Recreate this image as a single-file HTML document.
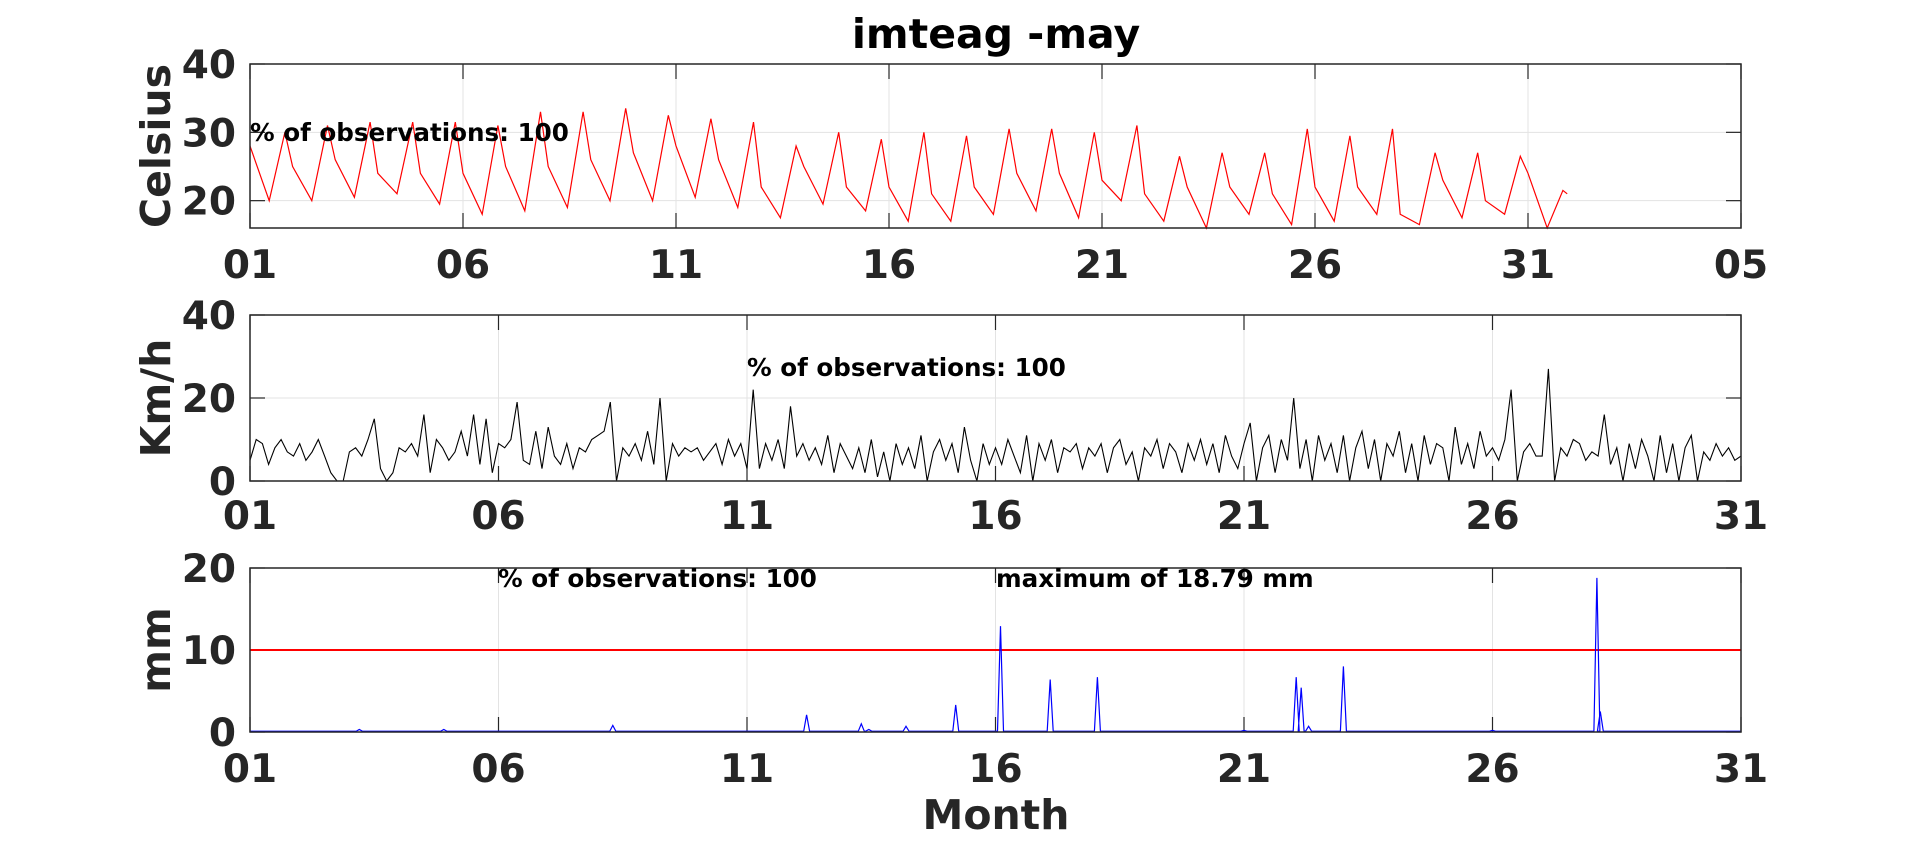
<!DOCTYPE html>
<html><head><meta charset="utf-8"><style>
html,body{margin:0;padding:0;background:#fff;}
svg{display:block;font-family:"DejaVu Sans","Liberation Sans",sans-serif;font-weight:bold;}
</style></head><body>
<svg id="chart" width="1923" height="841" viewBox="0 0 1923 841">
<text x="996" y="48" text-anchor="middle" font-size="41" fill="#000">imteag -may</text>
</svg>
<script>
// ---------- data ----------
const tempDays = [1,2,3,4,5,6,7,8,9,10,11,12,13,14,15,16,17,18,19,20,21,22,23,24,25,26,27,28,29,30,31];
const tempStart = [28,25,26,24,24,24,25,25,26,27,28,26,22,25,22,22,21,22,24,24,23,21,22,22,21,22,22,18,23,20,24];
const tempMin = [20,20,20.5,21,19.5,18,18.5,19,20,20,20.5,19,17.5,19.5,18.5,17,17,18,18.5,17.5,20,17,16,18,16.5,17,18,16.5,17.5,18,16];
const tempMax = [30,31,31.5,31.5,31.5,31,33,33,33.5,32.5,32,31.5,28,30,29,30,29.5,30.5,30.5,30,31,26.5,27,27,30.5,29.5,30.5,27,27,26.5,21.5];
const tempEnd = 21;
const windValues = [
5,10,9,4,8,10,7,6, 9,5,7,10,6,2,0,0, 7,8,6,10,15,3,0,2, 8,7,9,6,16,2,10,8, 5,7,12,6,16,4,15,2,
9,8,10,19,5,4,12,3, 13,6,4,9,3,8,7,10, 11,12,19,0,8,6,9,5, 12,4,20,0,9,6,8,7, 8,5,7,9,4,10,6,9,
3,22,3,9,5,10,3,18, 6,9,5,8,4,11,2,9, 6,3,8,2,10,1,7,0, 9,4,8,3,11,0,7,10, 5,9,2,13,5,0,9,4,
8,4,10,6,2,11,0,9, 5,10,2,8,7,9,3,8, 6,9,2,8,10,4,7,0, 8,6,10,3,9,7,2,9, 5,10,4,9,2,11,6,3,
9,14,0,8,11,2,10,5, 20,3,10,0,11,5,9,2, 11,0,8,12,3,10,0,9, 6,12,2,9,0,11,4,9, 8,0,13,4,9,3,12,6,
8,5,10,22,0,7,9,6, 6,27,0,8,6,10,9,5, 7,6,16,4,8,0,9,3, 10,6,0,11,2,9,0,8, 11,0,7,5,9,6,8,5,6];
const rainTimes = [3.2,4.9,8.3,12.2,13.3,13.45,14.2,15.2,16.1,17.1,18.05,21.0,22.05,22.15,22.3,23.0,26.0,28.1,28.17];
const rainValues = [0.3,0.3,0.8,2.1,1.0,0.3,0.7,3.3,12.9,6.4,6.7,0.2,6.7,5.4,0.7,8.0,0.2,18.79,2.5];
const rainThreshold = 10;
const tempTicks = ["01","06","11","16","21","26","31","05"];
const monthTicks = ["01","06","11","16","21","26","31"];

// ---------- layout ----------
const L = 250, R = 1741;
const NS = "http://www.w3.org/2000/svg";
const svg = document.getElementById("chart");
function mk(tag, attrs, parent){const e=document.createElementNS(NS,tag);for(const k in attrs)e.setAttribute(k,attrs[k]);(parent||svg).appendChild(e);return e;}

function panel(name, top, bot, ymin, ymax, yticks, xmin, xmax, xlabels, ylabel, labelY){
  const g = mk("g",{});
  
  
  const sx = d => L + (d - xmin) / (xmax - xmin) * (R - L);
  const sy = v => bot - (v - ymin) / (ymax - ymin) * (bot - top);
  xlabels.forEach((lab, i) => {
    const x = L + i * (R - L) / (xlabels.length - 1);
    const gl = mk("line",{x1:x,x2:x,y1:top,y2:bot,stroke:"#e3e3e3","stroke-width":1},g);
    
    
    mk("line",{x1:x,x2:x,y1:top,y2:top+15,stroke:"#262626","stroke-width":1.2},g);
    mk("line",{x1:x,x2:x,y1:bot,y2:bot-15,stroke:"#262626","stroke-width":1.2},g);
    const t = mk("text",{x:x,y:labelY,"text-anchor":"middle","font-size":39,fill:"#262626"},g);
    t.textContent = lab;
    
    
  });
  yticks.forEach(v => {
    const y = sy(v);
    const gl = mk("line",{x1:L,x2:R,y1:y,y2:y,stroke:"#e3e3e3","stroke-width":1},g);
    
    
    mk("line",{x1:L,x2:L+15,y1:y,y2:y,stroke:"#262626","stroke-width":1.2},g);
    mk("line",{x1:R,x2:R-15,y1:y,y2:y,stroke:"#262626","stroke-width":1.2},g);
    const t = mk("text",{x:236,y:y+14,"text-anchor":"end","font-size":39,fill:"#262626"},g);
    t.textContent = v;
    
    
  });
  const yl = mk("text",{x:0,y:0,transform:`translate(170,${(top+bot)/2}) rotate(-90)`,"text-anchor":"middle","font-size":41,fill:"#262626"},g);
  yl.textContent = ylabel;
  
  
  return {g, sx, sy, top, bot};
}
function frame(p, name){
  const b = mk("rect",{x:L,y:p.top,width:R-L,height:p.bot-p.top,fill:"none",stroke:"#262626","stroke-width":1.5},p.g);
  
  
}
function note(p, x, y, txt, name){
  const t = mk("text",{x:x,y:y,"font-size":24.6,fill:"#000"},p.g);
  t.textContent = txt;
  
  
}

// ---------- temperature ----------
const p1 = panel("temperature", 64, 228, 16, 40, [20,30,40], 1, 36, tempTicks, "Celsius", 278);
let pts = [];
tempDays.forEach((d, i) => {
  pts.push([d, tempStart[i]]);
  pts.push([d + 0.45, tempMin[i]]);
  pts.push([d + 0.82, tempMax[i]]);
});
pts.push([31.92, tempEnd]);
const tl = mk("polyline",{points:pts.map(p=>p1.sx(p[0]).toFixed(1)+","+p1.sy(p[1]).toFixed(1)).join(" "),fill:"none",stroke:"#ff0000","stroke-width":1.2},p1.g);


frame(p1, "temperature");
note(p1, 250, 141, "% of observations: 100", "temperature-observations-note");

// ---------- wind ----------
const p2 = panel("wind", 315, 481, 0, 40, [0,20,40], 1, 31, monthTicks, "Km/h", 529);
const wl = mk("polyline",{points:windValues.map((v,i)=>p2.sx(1 + i/8).toFixed(1)+","+p2.sy(v).toFixed(1)).join(" "),fill:"none",stroke:"#000","stroke-width":1.1},p2.g);


frame(p2, "wind");
note(p2, 747, 376, "% of observations: 100", "wind-observations-note");

// ---------- rain ----------
const p3 = panel("rain", 568, 732, 0, 20, [0,10,20], 1, 31, monthTicks, "mm", 782);
const th = mk("line",{x1:L,x2:R,y1:p3.sy(rainThreshold),y2:p3.sy(rainThreshold),stroke:"#ff0000","stroke-width":2},p3.g);


let rp = [[1,0.1]];
rainTimes.forEach((t,i)=>{ rp.push([t-0.06,0.1]); rp.push([t,rainValues[i]]); rp.push([t+0.06,0.1]); });
rp.push([31,0.1]);
const rl = mk("polyline",{points:rp.map(p=>p3.sx(p[0]).toFixed(1)+","+p3.sy(p[1]).toFixed(1)).join(" "),fill:"none",stroke:"#0000ff","stroke-width":1.2},p3.g);


frame(p3, "rain");
note(p3, 498, 587, "% of observations: 100", "rain-observations-note");
note(p3, 996, 587, "maximum of 18.79 mm", "rain-maximum-note");

const mx = mk("text",{x:996,y:829,"text-anchor":"middle","font-size":41,fill:"#262626"});
mx.textContent = "Month";


</script>
</body></html>
